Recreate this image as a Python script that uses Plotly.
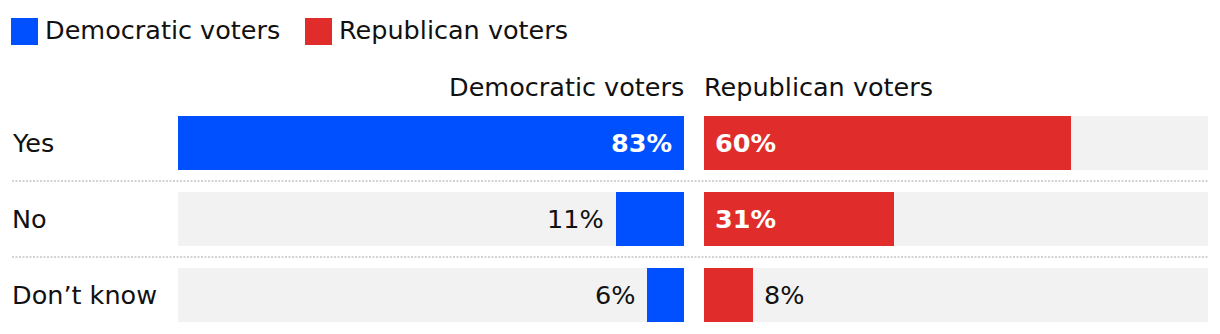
import plotly.graph_objects as go

# ---- data ----
categories = ["Yes", "No", "Don\u2019t know"]
dem_values = [83, 11, 6]
rep_values = [60, 31, 8]
series_names = ["Democratic voters", "Republican voters"]

# ---- style ----
W, H = 1220, 334
FONT = "DejaVu Sans"
FS = 25.5
BLUE = "#0050ff"
RED = "#e12c2c"
GREY = "#f2f2f2"
INK = "#111111"
INSIDE_MIN = 20    # values at or above this get white inside labels
SCALE_MAX = 82.3   # axis extent (track length)

def px(x):
    return x / W

def py(y):
    return 1 - y / H

fig = go.Figure()

# background tracks
for xa in ("x", "x2"):
    fig.add_trace(go.Bar(
        y=categories, x=[SCALE_MAX] * len(categories), orientation="h",
        marker=dict(color=GREY, line=dict(width=0)), width=54 / 76,
        xaxis=xa, yaxis="y", hoverinfo="skip", showlegend=False,
    ))

fig.add_trace(go.Bar(
    y=categories, x=dem_values, orientation="h", name=series_names[0],
    marker=dict(color=BLUE, line=dict(width=0)), width=54 / 76,
    xaxis="x", yaxis="y", showlegend=False,
))
fig.add_trace(go.Bar(
    y=categories, x=rep_values, orientation="h", name=series_names[1],
    marker=dict(color=RED, line=dict(width=0)), width=54 / 76,
    xaxis="x2", yaxis="y", showlegend=False,
))

annotations = []
shapes = []

# value labels
for cat, v in zip(categories, dem_values):
    inside = v >= INSIDE_MIN
    annotations.append(dict(
        x=0 if inside else v, y=cat, xref="x", yref="y",
        text=f"<b>{v}%</b>" if inside else f"{v}%",
        showarrow=False, xanchor="right", yanchor="middle",
        xshift=-10, font=dict(family=FONT, size=FS, color="white" if inside else INK),
    ))
for cat, v in zip(categories, rep_values):
    inside = v >= INSIDE_MIN
    annotations.append(dict(
        x=0 if inside else v, y=cat, xref="x2", yref="y",
        text=f"<b>{v}%</b>" if inside else f"{v}%",
        showarrow=False, xanchor="left", yanchor="middle",
        xshift=9, font=dict(family=FONT, size=FS, color="white" if inside else INK),
    ))

# row labels
for cat in categories:
    annotations.append(dict(
        x=px(10), y=cat, xref="paper", yref="y", text=cat, showarrow=False,
        xanchor="left", yanchor="middle", font=dict(family=FONT, size=FS, color=INK),
    ))

# column headers
annotations.append(dict(x=px(686), y=py(87), xref="paper", yref="paper", text=series_names[0],
                        showarrow=False, xanchor="right", yanchor="middle",
                        font=dict(family=FONT, size=FS, color=INK)))
annotations.append(dict(x=px(702), y=py(87), xref="paper", yref="paper", text=series_names[1],
                        showarrow=False, xanchor="left", yanchor="middle",
                        font=dict(family=FONT, size=FS, color=INK)))

# legend (manual)
for (sx, tx), name, col in zip([(11, 43), (305, 337)], series_names, [BLUE, RED]):
    shapes.append(dict(type="rect", xref="paper", yref="paper",
                       x0=px(sx), x1=px(sx + 27), y0=py(45), y1=py(18),
                       fillcolor=col, line=dict(width=0)))
    annotations.append(dict(x=px(tx), y=py(30), xref="paper", yref="paper", text=name,
                            showarrow=False, xanchor="left", yanchor="middle",
                            font=dict(family=FONT, size=FS, color=INK)))

# dotted separators between rows
for i in range(len(categories) - 1):
    shapes.append(dict(type="line", xref="paper", yref="y",
                       x0=px(12), x1=px(1208), y0=i + 0.5, y1=i + 0.5,
                       line=dict(color="#d3d3d3", width=2, dash="2px,1.5px")))

fig.update_layout(
    width=W, height=H,
    margin=dict(l=0, r=0, t=0, b=0),
    paper_bgcolor="white", plot_bgcolor="white",
    barmode="overlay", bargap=0,
    showlegend=False,
    xaxis=dict(domain=[px(178), px(684)], range=[SCALE_MAX, 0], visible=False, fixedrange=True),
    xaxis2=dict(domain=[px(704), px(1208)], range=[0, SCALE_MAX], visible=False, fixedrange=True),
    yaxis=dict(domain=[py(333), py(105)], range=[len(categories) - 0.5, -0.5],
               visible=False, type="category", fixedrange=True),
    annotations=annotations,
    shapes=shapes,
    font=dict(family=FONT),
)

fig.write_html("out.html")
